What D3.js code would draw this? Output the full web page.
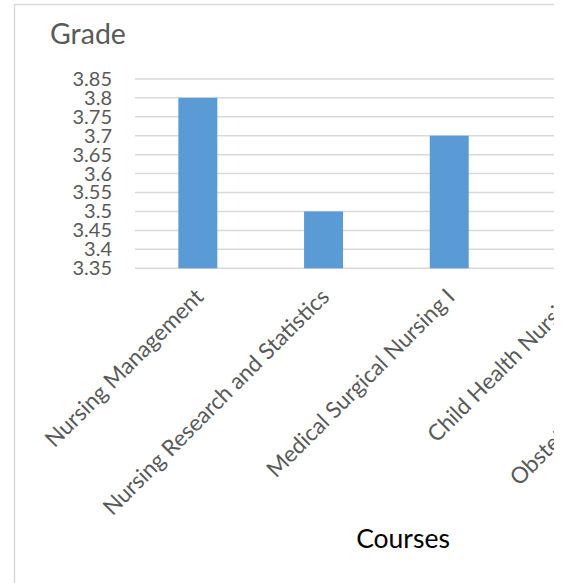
<!DOCTYPE html>
<html>
<head>
<meta charset="utf-8">
<script src="https://cdn.jsdelivr.net/npm/d3@7"></script>
<style>
  body { margin: 0; background: #fff; }
  svg { display: block; font-family: Lato, "Open Sans", sans-serif; }
</style>
</head>
<body>
<svg id="chart" width="569" height="583"></svg>
<script>
// chart values
var courses = ["Nursing Management", "Nursing Research and Statistics", "Medical Surgical Nursing I",
               "Child Health Nursing", "Obstetrics and Gynecology"];
var grades = [3.8, 3.5, 3.7, 3.6, 3.7];
var yTicks = [3.35, 3.4, 3.45, 3.5, 3.55, 3.6, 3.65, 3.7, 3.75, 3.8, 3.85];

var svg = d3.select("#chart");

// the picture is cut on the right, so everything is clipped there
svg.append("clipPath").attr("id", "cut")
    .append("rect").attr("x", 0).attr("y", 0).attr("width", 554).attr("height", 583);

var g = svg.append("g").attr("clip-path", "url(#cut)");

// chart border
g.append("rect")
    .attr("x", 14.5).attr("y", 4.5)
    .attr("width", 800).attr("height", 700)
    .attr("fill", "none")
    .attr("stroke", "#d9d9d9")
    .attr("stroke-width", 1.5);

var x = d3.scaleBand()
    .domain(courses)
    .range([135, 763.5])
    .paddingInner(0.69)
    .paddingOuter(0.345);

var y = d3.scaleLinear()
    .domain([3.35, 3.85])
    .range([268.3, 78.9]);

// gridlines
g.append("g")
    .selectAll("line")
    .data(yTicks)
    .enter().append("line")
    .attr("x1", 135).attr("x2", 763.5)
    .attr("y1", function(d) { return y(d); })
    .attr("y2", function(d) { return y(d); })
    .attr("stroke", "#d9d9d9")
    .attr("stroke-width", 1.5);

// y labels
var yAxis = g.append("g")
    .attr("transform", "translate(112,0)")
    .call(d3.axisLeft(y).tickValues(yTicks).tickSize(0).tickPadding(0)
        .tickFormat(function(d) { return d3.format("")(+d.toFixed(2)); }));
yAxis.select(".domain").remove();
yAxis.selectAll("text")
    .attr("fill", "#595959")
    .style("font-size", "20px")
    .style("font-family", "Lato, sans-serif");

// bars
g.append("g")
    .selectAll("rect")
    .data(grades)
    .enter().append("rect")
    .attr("x", function(d, i) { return x(courses[i]); })
    .attr("width", x.bandwidth())
    .attr("y", function(d) { return y(d); })
    .attr("height", function(d) { return y(3.35) - y(d); })
    .attr("fill", "#5b9bd5");

// category labels
var xAxis = g.append("g")
    .attr("transform", "translate(0,268.3)")
    .call(d3.axisBottom(x).tickSize(0).tickPadding(0));
xAxis.select(".domain").remove();
xAxis.selectAll("text")
    .attr("fill", "#595959")
    .style("font-size", "22.5px")
    .style("font-family", "Lato, sans-serif")
    .style("text-anchor", "end")
    .attr("y", 0)
    .attr("dy", "0")
    .attr("transform", "translate(7,30) rotate(-45)");

// titles
g.append("text")
    .attr("x", 50).attr("y", 44)
    .attr("fill", "#595959")
    .style("font-size", "28.5px")
    .text("Grade");

g.append("text")
    .attr("x", 403).attr("y", 548)
    .attr("text-anchor", "middle")
    .attr("fill", "#000")
    .style("font-size", "26.5px")
    .text("Courses");
</script>
</body>
</html>
